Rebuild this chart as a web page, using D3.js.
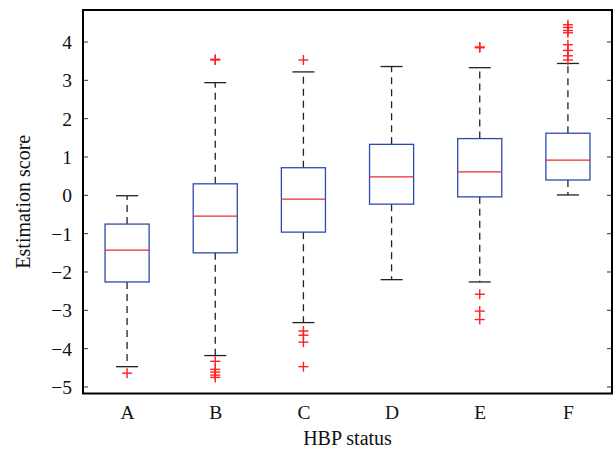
<!DOCTYPE html>
<html><head><meta charset="utf-8">
<script src="https://cdn.jsdelivr.net/npm/d3@7"></script>
<style>body{margin:0;background:#fff}svg{display:block}text{font-family:"Liberation Serif","DejaVu Serif",serif;fill:#111}</style>
</head><body><svg id="c" width="615" height="455"></svg>
<script>
const categories = ["A","B","C","D","E","F"];
const q1 = [-2.26,-1.50,-0.96,-0.23,-0.04,0.40];
const medians = [-1.43,-0.54,-0.10,0.48,0.61,0.92];
const q3 = [-0.75,0.30,0.72,1.33,1.48,1.62];
const whiskerLow = [-4.47,-4.18,-3.32,-2.20,-2.26,0.01];
const whiskerHigh = [-0.01,2.94,3.22,3.36,3.33,3.44];
const outliers = [
  [-4.64],
  [3.53,3.55,-4.33,-4.54,-4.61,-4.69,-4.75],
  [3.53,-3.54,-3.65,-3.83,-4.47],
  [],
  [3.85,3.87,-2.58,-3.02,-3.24],
  [4.45,4.38,4.30,4.24,3.93,3.78,3.64,3.53]
];
const yTicks = [-5,-4,-3,-2,-1,0,1,2,3,4];

const L=83, R=612, T=10, B=393.5;
const svg = d3.select("#c");
const x = d3.scaleLinear().domain([0.5,6.5]).range([L,R]);
const y = d3.scaleLinear().domain([-5.17,4.835]).range([B,T]);
const unit = x(1)-x(0);

const yAxisL = d3.axisLeft(y).tickValues(yTicks).tickSize(0).tickPadding(11)
  .tickFormat(d => d<0 ? "\u2212"+Math.abs(d) : d);
const gL = svg.append("g").attr("transform",`translate(${L},0)`).call(yAxisL);
gL.select(".domain").remove();
gL.selectAll("text").style("font-size","19.5px").attr("dy","0.33em");
svg.append("g").selectAll("line").data(yTicks).join("line")
  .attr("x1",L).attr("x2",L+5).attr("y1",d=>y(d)).attr("y2",d=>y(d)).attr("stroke","#333").attr("stroke-width",1);
svg.append("g").selectAll("line").data(yTicks).join("line")
  .attr("x1",R-5).attr("x2",R).attr("y1",d=>y(d)).attr("y2",d=>y(d)).attr("stroke","#333").attr("stroke-width",1);

const xAxis = d3.axisBottom(x).tickValues(d3.range(1,7)).tickSize(0).tickPadding(12)
  .tickFormat((d,i)=>categories[i]);
const gB = svg.append("g").attr("transform",`translate(0,${B})`).call(xAxis);
gB.select(".domain").remove();
gB.selectAll("text").style("font-size","19.5px");

const data = categories.map((c,i)=>({i:i+1,q1:q1[i],med:medians[i],q3:q3[i],lo:whiskerLow[i],hi:whiskerHigh[i],out:outliers[i]}));
const g = svg.append("g");
const bw = unit*0.5, cw = unit*0.25;
data.forEach(d=>{
  const cx = x(d.i);
  g.append("line").attr("x1",cx).attr("x2",cx).attr("y1",y(d.q3)).attr("y2",y(d.hi))
    .attr("stroke","#222").attr("stroke-width",1.3).attr("stroke-dasharray","7,5");
  g.append("line").attr("x1",cx).attr("x2",cx).attr("y1",y(d.q1)).attr("y2",y(d.lo))
    .attr("stroke","#222").attr("stroke-width",1.3).attr("stroke-dasharray","7,5");
  [d.hi,d.lo].forEach(v=>g.append("line").attr("x1",cx-cw/2).attr("x2",cx+cw/2).attr("y1",y(v)).attr("y2",y(v))
    .attr("stroke","#222").attr("stroke-width",1.3));
  g.append("rect").attr("x",cx-bw/2).attr("width",bw).attr("y",y(d.q3)).attr("height",y(d.q1)-y(d.q3))
    .attr("fill","none").attr("stroke","#2f49b0").attr("stroke-width",1.3);
  g.append("line").attr("x1",cx-bw/2).attr("x2",cx+bw/2).attr("y1",y(d.med)).attr("y2",y(d.med))
    .attr("stroke","#ee2a2a").attr("stroke-width",1.3);
  d.out.forEach(v=>{
    g.append("line").attr("x1",cx-5).attr("x2",cx+5).attr("y1",y(v)).attr("y2",y(v)).attr("stroke","#ff2020").attr("stroke-width",1.4);
    g.append("line").attr("x1",cx).attr("x2",cx).attr("y1",y(v)-5).attr("y2",y(v)+5).attr("stroke","#ff2020").attr("stroke-width",1.4);
  });
});

svg.append("rect").attr("x",L).attr("y",T).attr("width",R-L).attr("height",B-T)
  .attr("fill","none").attr("stroke","#000").attr("stroke-width",2);

svg.append("text").attr("x",(L+R)/2).attr("y",445).attr("text-anchor","middle").style("font-size","20px").text("HBP status");
svg.append("text").attr("transform",`translate(30,${(T+B)/2}) rotate(-90)`).attr("text-anchor","middle").style("font-size","20px").text("Estimation score");
</script></body></html>
